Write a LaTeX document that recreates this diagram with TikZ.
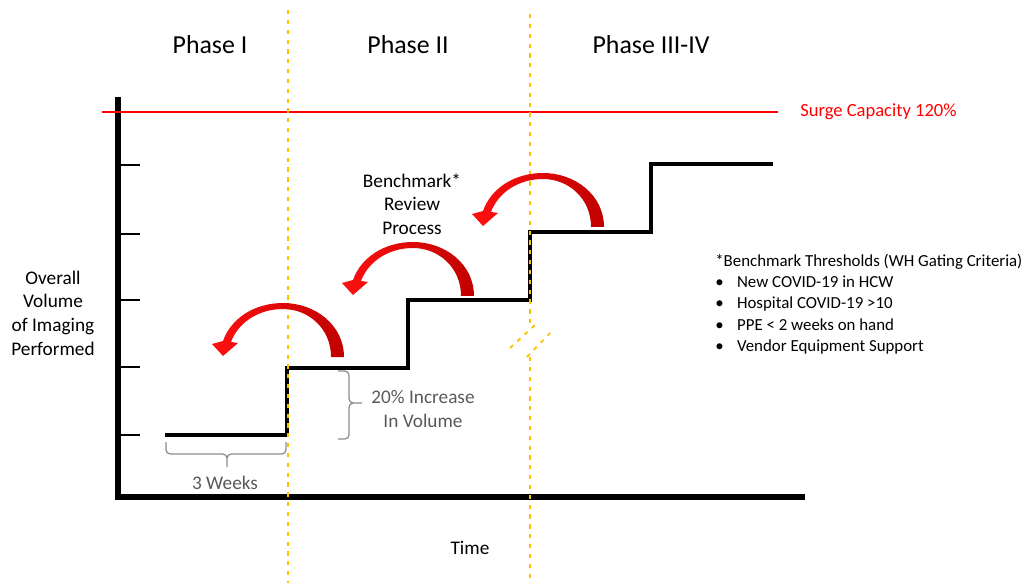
\documentclass[tikz,border=0pt]{standalone}
\usepackage{fontspec}
\setmainfont{Carlito}
\usepackage{tikz}
\definecolor{ink}{HTML}{000000}
\definecolor{gold}{HTML}{FFC000}
\definecolor{surge}{HTML}{FF0000}
\definecolor{grayt}{HTML}{595959}
\definecolor{grayb}{HTML}{8C8C8C}
\definecolor{darkred}{HTML}{C00000}
\definecolor{brightred}{HTML}{FF1010}
\tikzset{
  axisline/.style={line width=3.6pt, draw=ink},
  tickmark/.style={line width=1.8pt, draw=ink},
  stair/.style={line width=2.8pt, draw=ink},
  phaseline/.style={line width=1.3pt, draw=gold, dash pattern=on 3pt off 4pt},
  surgeline/.style={line width=1.4pt, draw=surge},
  bracket/.style={draw=grayb, line width=0.9pt, rounded corners=3pt},
  phaselab/.style={font=\fontsize{18.4pt}{22pt}\selectfont, inner sep=0pt},
  lab/.style={font=\fontsize{13.7pt}{16.8pt}\selectfont, align=center, inner sep=0pt},
  mlabel/.style={text=grayt, font=\fontsize{13.7pt}{17pt}\selectfont, align=center, inner sep=0pt},
  surgelab/.style={text=surge, font=\fontsize{13.2pt}{16pt}\selectfont, inner sep=0pt},
  notelab/.style={font=\fontsize{12pt}{15.2pt}\selectfont, align=left, inner sep=0pt},
  turnarrow/.pic={
    \shade[left color=brightred, right color=darkred]
      (61,54) -- (48,54) .. controls (48,25) and (25,6) .. (0,6)
      .. controls (-25,6) and (-45,20) .. (-52,39)
      -- (-45,40) -- (-60,53) -- (-71,41) -- (-60,38)
      .. controls (-52,15) and (-28,0) .. (0,0)
      .. controls (32,0) and (61,22) .. (61,54) -- cycle;
  },
}

\begin{document}
\begin{tikzpicture}[x=0.025cm, y=-0.025cm]
  \useasboundingbox (0,0) rectangle (1032,583);

  % axes
  \coordinate (ytop) at (118,97);
  \coordinate (xend) at (805,497);
  \draw[axisline] (ytop) |- (xend);
  \foreach \ty in {165,234,300,367,435}
    \draw[tickmark] (118,\ty) -- (140,\ty);

  % surge capacity
  \coordinate (r0) at (102,112);
  \coordinate (r1) at (778,112);
  \draw[surgeline] (r0) -- (r1);
  \node[surgelab, anchor=west] (surge) at (800,112) {Surge Capacity 120\%};

  % staircase
  \coordinate (s0) at (165,435);
  \coordinate (s1) at (287,368);
  \coordinate (s2) at (408,300);
  \coordinate (s3) at (530,232);
  \coordinate (s4) at (651,164);
  \coordinate (s5) at (773,164);
  \draw[stair] (s0) -| (s1) -| (s2) -| (s3) -| (s4) -- (s5);

  % phase borders
  \draw[phaseline] (288,10) -- (288,583);
  \draw[phaseline] (530,14) -- (530,323);
  \draw[phaseline] (530,357) -- (530,583);
  \draw[phaseline] (510,348) -- (535,325);
  \draw[phaseline] (527,357) -- (550,333);

  % review arrows
  \pic at (283,303) {turnarrow};
  \pic at (413,242) {turnarrow};
  \pic at (543,173) {turnarrow};

  % braces
  \draw[bracket] (166,442) |- (227,454) -- (227,467)
                 (286,442) |- (227,454) -- (227,467);
  \draw[bracket] (338,371) -| (349,403) -- (362,403)
                 (338,439) -| (349,403) -- (362,403);

  % labels
  \node[phaselab] (ph1) at (210,45) {Phase I};
  \node[phaselab] (ph2) at (408,45) {Phase II};
  \node[phaselab] (ph3) at (651,45) {Phase III-IV};
  \node[lab] (ylab) at (53,313) {Overall\\Volume\\of Imaging\\Performed};
  \node[lab] (bench) at (412,204) {Benchmark*\\Review\\Process};
  \node[lab] (tlab) at (470,548) {Time};
  \node[mlabel] (weeks) at (225,483) {3 Weeks};
  \node[mlabel] (incr) at (423,409) {20\% Increase\\In Volume};
  \node[notelab, anchor=west] (note) at (715,304) {*Benchmark Thresholds (WH Gating Criteria)\\
    \makebox[15.5pt][l]{\textbullet}New COVID-19 in HCW\\
    \makebox[15.5pt][l]{\textbullet}Hospital COVID-19 >10\\
    \makebox[15.5pt][l]{\textbullet}PPE < 2 weeks on hand\\
    \makebox[15.5pt][l]{\textbullet}Vendor Equipment Support};
\end{tikzpicture}
\end{document}
